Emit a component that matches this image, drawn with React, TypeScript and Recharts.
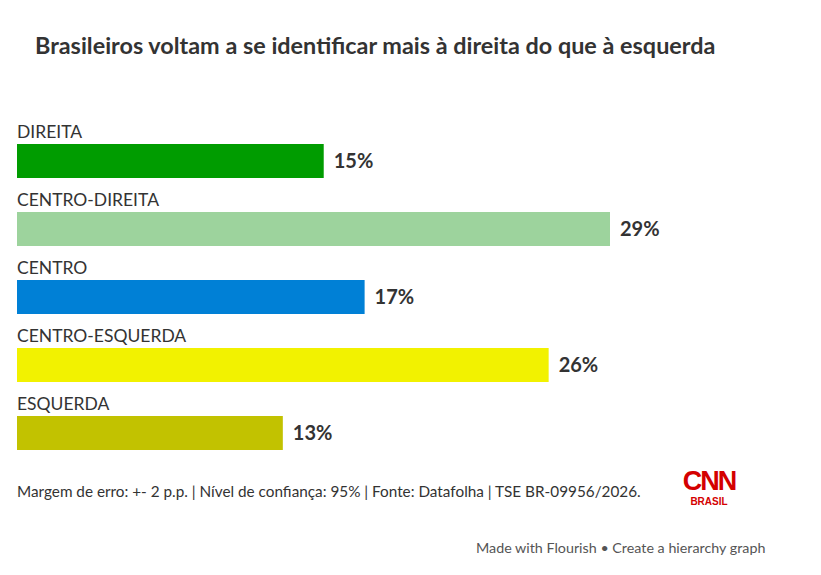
import { BarChart, Bar, Cell, XAxis, YAxis, LabelList } from "recharts";

const categories = ["DIREITA", "CENTRO-DIREITA", "CENTRO", "CENTRO-ESQUERDA", "ESQUERDA"];
const shares = [15, 29, 17, 26, 13];
const colors = ["#009c00", "#9dd39d", "#0080d6", "#f2f200", "#c2c200"];

const data = categories.map((name, i) => ({ name, v: shares[i], color: colors[i] }));

const FONT = "Lato, 'Open Sans', sans-serif";

function CatLabel(props: any) {
  const { x, y, value } = props;
  return (
    <text x={x} y={y - 6} fill="#333" fontSize={17.5} fontFamily={FONT}>
      {value}
    </text>
  );
}

export default function App() {
  return (
    <div style={{ position: "relative", width: 821, height: 575, margin: -8, background: "#fff", fontFamily: FONT, color: "#333" }}>
      <div style={{ position: "absolute", left: 35, top: 31, fontSize: 23.4, fontWeight: 700, whiteSpace: "nowrap" }}>
        Brasileiros voltam a se identificar mais à direita do que à esquerda
      </div>
      <BarChart
        width={821}
        height={575}
        data={data}
        layout="vertical"
        margin={{ top: 127, right: 211, left: 17, bottom: 108 }}
      >
        <XAxis type="number" domain={[0, "dataMax"]} hide />
        <YAxis type="category" dataKey="name" hide />
        <Bar dataKey="v" barSize={34} isAnimationActive={false}>
          {data.map((d, i) => (
            <Cell key={i} fill={d.color} />
          ))}
          <LabelList dataKey="name" content={CatLabel} />
          <LabelList
            dataKey="v"
            position="right"
            offset={10}
            formatter={(v: any) => `${v}%`}
            fill="#333"
            fontSize={20}
            fontWeight={700}
            fontFamily={FONT}
          />
        </Bar>
      </BarChart>
      <div style={{ position: "absolute", left: 17, top: 482, fontSize: 15.3, whiteSpace: "nowrap" }}>
        Margem de erro: +- 2 p.p. | Nível de confiança: 95% | Fonte: Datafolha | TSE BR-09956/2026.
      </div>
      <div style={{ position: "absolute", left: 681, top: 468, width: 56, textAlign: "center", color: "#d40000", fontFamily: "'Liberation Sans', Arial, sans-serif", fontWeight: 700 }}>
        <div style={{ fontSize: 27, lineHeight: "26px", letterSpacing: -2 }}>CNN</div>
        <div style={{ fontSize: 10, lineHeight: "10px", marginTop: 3 }}>BRASIL</div>
      </div>
      <div style={{ position: "absolute", left: 476, top: 539, fontSize: 14.3, color: "#555", whiteSpace: "nowrap" }}>
        Made with Flourish • Create a hierarchy graph
      </div>
    </div>
  );
}
